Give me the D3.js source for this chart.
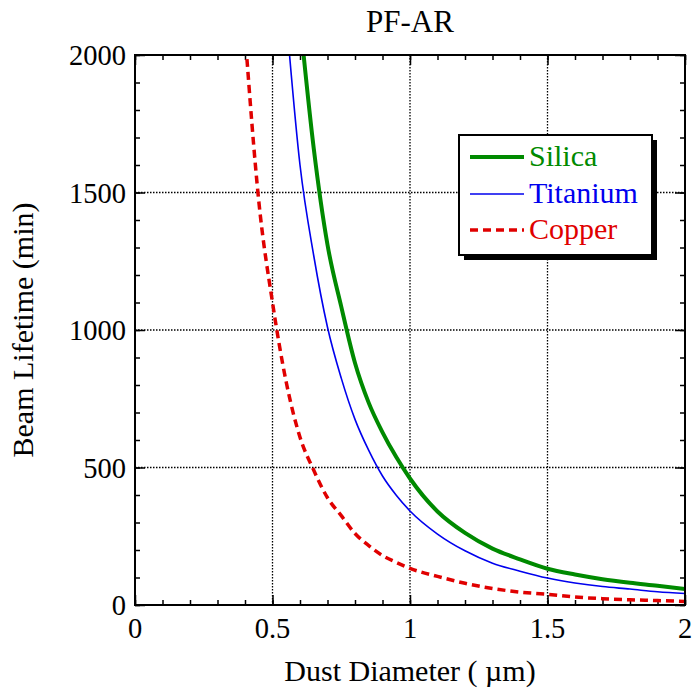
<!DOCTYPE html>
<html>
<head>
<meta charset="utf-8">
<script src="https://cdn.jsdelivr.net/npm/d3@7"></script>
<style>
  html, body { margin: 0; padding: 0; background: #fff; }
  svg text { font-family: "Liberation Serif", "Times New Roman", serif; }
</style>
</head>
<body>
<svg id="chart" width="696" height="690"></svg>
<script>
// Dust diameter (µm) sample points
const diameter = [0.40, 0.45, 0.50, 0.55, 0.60, 0.65, 0.70, 0.75, 0.80, 0.85, 0.90, 0.95,
                  1.0, 1.1, 1.2, 1.3, 1.4, 1.5, 1.6, 1.7, 1.8, 1.9, 2.0];
// Beam lifetime (min) for each dust material; null where off the chart
const silica   = [null, null, null, null, 2130, 1660, 1310, 1085, 880, 735, 628, 538,
                  460, 340, 262, 205, 166, 132, 111, 94, 81, 70, 58];
const titanium = [null, null, null, 2140, 1600, 1270, 1010, 825, 675, 562, 469, 399,
                  342, 258, 197, 152, 123, 98, 80, 67, 58, 48, 42];
const copper   = [2080, 1470, 1100, 810, 610, 490, 390, 325, 260, 216, 180, 155,
                  133, 104, 79, 60, 47, 39, 29, 23, 19, 16, 13];

const seriesNames = ["Silica", "Titanium", "Copper"];
const xTicks = [0, 0.5, 1, 1.5, 2];
const xTickLabels = ["0", "0.5", "1", "1.5", "2"];
const yTicks = [0, 500, 1000, 1500, 2000];
const yTickLabels = ["0", "500", "1000", "1500", "2000"];

const styles = {
  Silica:   { color: "#008a00", width: 4,   dash: null },
  Titanium: { color: "#0000ee", width: 1.6, dash: null },
  Copper:   { color: "#e00000", width: 3.5, dash: "8,5" }
};

const margin = { left: 135, top: 55, right: 11, bottom: 85 };
const W = 696, H = 690;
const pw = W - margin.left - margin.right;
const ph = H - margin.top - margin.bottom;

const svg = d3.select("#chart");
const x = d3.scaleLinear().domain([0, 2]).range([margin.left, margin.left + pw]);
const y = d3.scaleLinear().domain([0, 2000]).range([margin.top + ph, margin.top]);

svg.append("defs").append("clipPath").attr("id", "plotClip")
  .append("rect").attr("x", margin.left).attr("y", margin.top).attr("width", pw).attr("height", ph);

// Dotted grid at major ticks
const grid = svg.append("g").attr("stroke", "#000").attr("stroke-width", 1.3).attr("stroke-dasharray", "1.5,1.5");
xTicks.slice(1, -1).forEach(v => {
  grid.append("line").attr("x1", x(v)).attr("x2", x(v)).attr("y1", margin.top).attr("y2", margin.top + ph);
});
yTicks.slice(1, -1).forEach(v => {
  grid.append("line").attr("x1", margin.left).attr("x2", margin.left + pw).attr("y1", y(v)).attr("y2", y(v));
});

// Inward ticks on all four sides
const xMinor = d3.range(0, 2.0001, 0.1);
const yMinor = d3.range(0, 2000.1, 100);
function styleAxis(g) {
  g.select(".domain").remove();
  g.selectAll(".tick line").attr("stroke", "#000").attr("stroke-width", 1.5);
}
svg.append("g").attr("transform", `translate(0,${margin.top + ph})`)
  .call(d3.axisBottom(x).tickValues(xMinor).tickSize(-5).tickFormat("")).call(styleAxis);
svg.append("g").attr("transform", `translate(0,${margin.top + ph})`)
  .call(d3.axisBottom(x).tickValues(xTicks).tickSize(-10).tickFormat("")).call(styleAxis);
svg.append("g").attr("transform", `translate(0,${margin.top})`)
  .call(d3.axisTop(x).tickValues(xMinor).tickSize(-5).tickFormat("")).call(styleAxis);
svg.append("g").attr("transform", `translate(0,${margin.top})`)
  .call(d3.axisTop(x).tickValues(xTicks).tickSize(-10).tickFormat("")).call(styleAxis);
svg.append("g").attr("transform", `translate(${margin.left},0)`)
  .call(d3.axisLeft(y).tickValues(yMinor).tickSize(-5).tickFormat("")).call(styleAxis);
svg.append("g").attr("transform", `translate(${margin.left},0)`)
  .call(d3.axisLeft(y).tickValues(yTicks).tickSize(-10).tickFormat("")).call(styleAxis);
svg.append("g").attr("transform", `translate(${margin.left + pw},0)`)
  .call(d3.axisRight(y).tickValues(yMinor).tickSize(-5).tickFormat("")).call(styleAxis);
svg.append("g").attr("transform", `translate(${margin.left + pw},0)`)
  .call(d3.axisRight(y).tickValues(yTicks).tickSize(-10).tickFormat("")).call(styleAxis);

// Tick labels
svg.append("g").selectAll("text").data(xTicks).join("text")
  .attr("x", d => x(d)).attr("y", 638)
  .attr("text-anchor", "middle").attr("font-size", 28.5).text((d, i) => xTickLabels[i]);
svg.append("g").selectAll("text").data(yTicks).join("text")
  .attr("x", 126).attr("y", d => y(d) + 10)
  .attr("text-anchor", "end").attr("font-size", 28.5).text((d, i) => yTickLabels[i]);

// Curves
const allSeries = { Silica: silica, Titanium: titanium, Copper: copper };
const line = d3.line().defined(d => d[1] != null).x(d => x(d[0])).y(d => y(d[1]))
  .curve(d3.curveMonotoneX);
const curves = svg.append("g").attr("clip-path", "url(#plotClip)");
["Copper", "Titanium", "Silica"].forEach(name => {
  const st = styles[name];
  const pts = diameter.map((d, i) => [d, allSeries[name][i]]);
  curves.append("path").datum(pts)
    .attr("d", line).attr("fill", "none")
    .attr("stroke", st.color).attr("stroke-width", st.width)
    .attr("stroke-dasharray", st.dash).attr("stroke-linejoin", "round");
});

// Frame
svg.append("rect").attr("x", margin.left).attr("y", margin.top).attr("width", pw).attr("height", ph)
  .attr("fill", "none").attr("stroke", "#000").attr("stroke-width", 2);

// Legend with drop shadow
const lg = { x: 459, y: 135, w: 193, h: 120 };
svg.append("rect").attr("x", lg.x + 5).attr("y", lg.y + 5).attr("width", lg.w).attr("height", lg.h).attr("fill", "#000");
svg.append("rect").attr("x", lg.x).attr("y", lg.y).attr("width", lg.w).attr("height", lg.h)
  .attr("fill", "#fff").attr("stroke", "#000").attr("stroke-width", 2);
const rowY = [157, 194, 230];
seriesNames.forEach((name, i) => {
  const st = styles[name];
  svg.append("line").attr("x1", 470).attr("x2", 524).attr("y1", rowY[i]).attr("y2", rowY[i])
    .attr("stroke", st.color).attr("stroke-width", st.width).attr("stroke-dasharray", st.dash);
  svg.append("text").attr("x", 529).attr("y", rowY[i] + 9).attr("font-size", 30)
    .attr("fill", st.color).text(name);
});

// Titles
svg.append("text").attr("x", x(1)).attr("y", 32).attr("text-anchor", "middle").attr("font-size", 31).text("PF-AR");
svg.append("text").attr("x", x(1)).attr("y", 681).attr("text-anchor", "middle").attr("font-size", 30).text("Dust Diameter ( µm)");
svg.append("text").attr("transform", `translate(33,${y(1000)}) rotate(-90)`)
  .attr("text-anchor", "middle").attr("font-size", 30).text("Beam Lifetime (min)");
</script>
</body>
</html>
